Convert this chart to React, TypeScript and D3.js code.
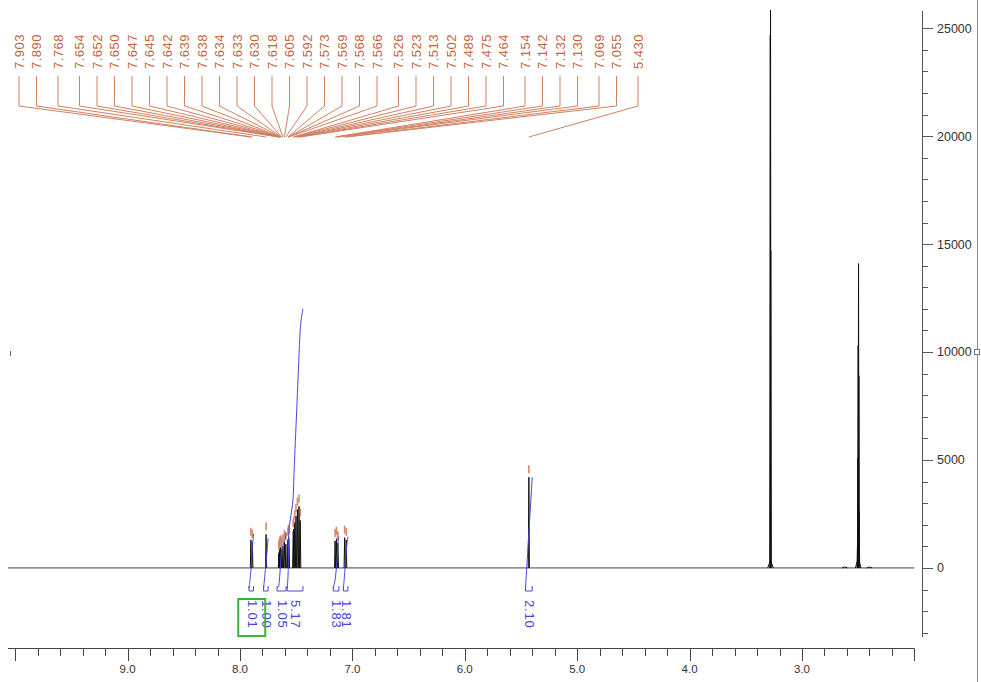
import React from "react";
import * as d3 from "d3";

// picked peaks (ppm) with their apex heights
const pickedPpm = [
  7.903, 7.89, 7.768, 7.654, 7.652, 7.65, 7.647, 7.645, 7.642, 7.639, 7.638,
  7.634, 7.633, 7.63, 7.618, 7.605, 7.592, 7.573, 7.569, 7.568, 7.566, 7.526,
  7.523, 7.513, 7.502, 7.489, 7.475, 7.464, 7.154, 7.142, 7.132, 7.13, 7.069,
  7.055, 5.43,
];
const pickedHeight = [
  1300, 1200, 1550, 650, 700, 750, 800, 850, 900, 950, 900, 850, 800, 750,
  1000, 1200, 1100, 1300, 1350, 1450, 1350, 1700, 1800, 2100, 2400, 2700,
  2850, 2200, 1250, 1350, 1100, 1150, 1400, 1300, 4200,
];

// solvent / water lines (not picked)
const solventPpm = [3.282, 3.28, 3.278, 2.506, 2.503, 2.5, 2.497, 2.494, 2.491];
const solventHeight = [24700, 27000, 14700, 1200, 5100, 10300, 14100, 8900, 2600];

// small humps on the baseline
const humpPpm = [3.28, 2.5, 2.62, 2.4];
const humpHeight = [350, 450, 50, 40];

// integrals: region start/end (ppm), value, and how high its curve climbs
const integralFrom = [7.92, 7.79, 7.67, 7.58, 7.17, 7.08, 5.46];
const integralTo = [7.88, 7.75, 7.59, 7.44, 7.12, 7.04, 5.4];
const integralValue = [1.01, 1.0, 1.05, 5.17, 1.83, 1.81, 2.1];
const integralRise = [1.0, 0.92, 1.02, 5.17, 0.95, 0.95, 2.05];

const xTickLabels = ["9.0", "8.0", "7.0", "6.0", "5.0", "4.0", "3.0"];

const W = 981;
const H = 682;
const FONT = "'Liberation Sans', Arial, sans-serif";
const RED = "#c6623c";
const BLUE = "#4646dc";

export default function App() {
  const xs = d3.scaleLinear().domain([10.064, 2.0]).range([8, 914.4]);
  const ys = d3.scaleLinear().domain([-3200, 25800]).range([637, 11]);
  const yi = d3.scaleLinear().domain([0, 1]).range([588, 534]);
  const y0 = ys(0);

  const spike = (p: number, h: number, hw: number) =>
    `M${xs(p + hw)},${y0}L${xs(p)},${ys(h)}L${xs(p - hw)},${y0}`;

  // label layout: fixed step with a small gap where ppm jumps
  const step = 17.5;
  const gap = 4;
  let gaps = 0;
  const labelX = pickedPpm.map((p, i) => {
    if (i > 0 && pickedPpm[i - 1] - p > 0.035) gaps++;
    return 19 + i * step + gaps * gap;
  });

  const xTicks = d3.range(0, 41).map((i) => 10 - i * 0.2);
  const yTicks = d3.range(-3000, 25001, 1000);

  const integralLine = d3
    .line<[number, number]>()
    .x((d) => xs(d[0]))
    .y((d) => yi(d[1]))
    .curve(d3.curveBasis);

  const integrals = integralValue.map((v, k) => {
    const from = integralFrom[k];
    const to = integralTo[k];
    const rise = integralRise[k];
    const idx = pickedPpm
      .map((p, i) => i)
      .filter((i) => pickedPpm[i] <= from && pickedPpm[i] >= to);
    const total = d3.sum(idx, (i) => pickedHeight[i]);
    const cum = d3.cumsum(idx, (i) => pickedHeight[i]);
    const pts: [number, number][] = [[from, 0]];
    idx.forEach((i, j) => {
      pts.push([pickedPpm[i], ((cum[j] - pickedHeight[i] / 2) / total) * rise]);
    });
    pts.push([to, rise]);
    return { from, to, v, pts };
  });

  return (
    <svg
      width={W}
      height={H}
      style={{ position: "absolute", left: 0, top: 0, background: "#fff" }}
      fontFamily={FONT}
    >
      <defs>
        <clipPath id="plot">
          <rect x={8} y={10} width={907} height={640} />
        </clipPath>
      </defs>

      {/* frame bits */}
      <line x1={977.5} x2={977.5} y1={0} y2={H} stroke="#888" />
      <line x1={10.5} x2={10.5} y1={351} y2={356} stroke="#666" />

      {/* spectrum */}
      <g clipPath="url(#plot)" fill="none" stroke="#111" strokeWidth={1}>
        <line x1={xs(10.064)} x2={xs(2.0)} y1={y0} y2={y0} stroke="#444" />
        {humpPpm.map((p, i) => (
          <path key={"h" + i} d={spike(p, humpHeight[i], 0.025)} />
        ))}
        {solventPpm.map((p, i) => (
          <path key={"s" + i} d={spike(p, solventHeight[i], 0.004)} />
        ))}
        {pickedPpm.map((p, i) => (
          <path key={"p" + i} d={spike(p, pickedHeight[i], 0.005)} />
        ))}
      </g>

      {/* peak pick markers */}
      <g stroke={RED} strokeWidth={1.6} opacity={0.75}>
        {pickedPpm.map((p, i) => (
          <line
            key={i}
            x1={xs(p)}
            x2={xs(p)}
            y1={ys(pickedHeight[i]) - 4}
            y2={ys(pickedHeight[i]) - 12}
          />
        ))}
      </g>

      {/* peak labels and connectors */}
      <g fill="none" stroke={RED} strokeWidth={1} opacity={0.8}>
        {pickedPpm.map((p, i) => (
          <path key={i} d={`M${labelX[i]},76V106L${xs(p)},137`} />
        ))}
      </g>
      <g fill={RED} fontSize={13} letterSpacing={0.5}>
        {pickedPpm.map((p, i) => (
          <text
            key={i}
            transform={`translate(${labelX[i]},69) rotate(-90)`}
            dy="0.36em"
          >
            {p.toFixed(3)}
          </text>
        ))}
      </g>

      {/* integrals */}
      <g fill="none" stroke={BLUE} strokeWidth={1}>
        {integrals.map((d, k) => (
          <g key={k}>
            <path d={integralLine(d.pts) || ""} />
            <path d={`M${xs(d.from)},586V591H${xs(d.to)}V586`} />
          </g>
        ))}
      </g>
      <g fill={BLUE} fontSize={13} letterSpacing={0.8}>
        {integrals.map((d, k) => (
          <text
            key={k}
            transform={`translate(${xs((d.from + d.to) / 2) + 1},600) rotate(90)`}
            dy="0.36em"
          >
            {d.v.toFixed(2)}
          </text>
        ))}
      </g>
      <rect
        x={xs(7.9) - 13}
        y={599}
        width={27}
        height={37}
        fill="none"
        stroke="#3cb43c"
        strokeWidth={2}
      />

      {/* x axis */}
      <g stroke="#444" strokeWidth={1}>
        <line x1={8} x2={xs(2.0)} y1={648.5} y2={648.5} />
        {xTicks.map((t, i) => (
          <line
            key={i}
            x1={Math.round(xs(t)) + 0.5}
            x2={Math.round(xs(t)) + 0.5}
            y1={648.5}
            y2={i % 5 === 0 ? 661 : 656}
          />
        ))}
      </g>
      <g fill="#333" fontSize={11.5} textAnchor="middle">
        {xTickLabels.map((t) => (
          <text key={t} x={xs(+t)} y={673}>
            {t}
          </text>
        ))}
      </g>

      {/* y axis */}
      <g stroke="#555" strokeWidth={1}>
        <line x1={922.5} x2={922.5} y1={ys(25800)} y2={ys(-3200)} />
        {yTicks.map((t) => (
          <line
            key={t}
            x1={922.5}
            x2={t % 5000 === 0 ? 933 : 928}
            y1={Math.round(ys(t)) + 0.5}
            y2={Math.round(ys(t)) + 0.5}
          />
        ))}
      </g>
      <g fill="#333" fontSize={12.5}>
        {yTicks
          .filter((t) => t % 5000 === 0 && t >= 0)
          .map((t) => (
            <text key={t} x={937} y={ys(t)} dy="0.35em">
              {t}
            </text>
          ))}
      </g>
      <rect
        x={974.5}
        y={ys(10000) - 2.5}
        width={5}
        height={5}
        fill="#fff"
        stroke="#777"
      />
    </svg>
  );
}
